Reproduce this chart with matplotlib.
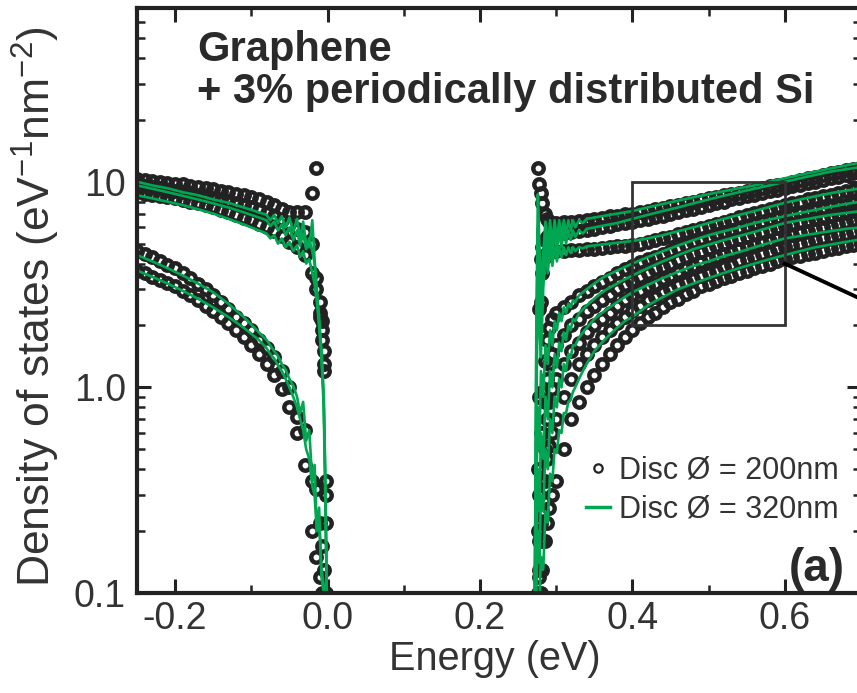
import numpy as np
import matplotlib.pyplot as plt
from matplotlib.patches import Rectangle
from matplotlib.lines import Line2D
from matplotlib.ticker import MultipleLocator, FixedLocator, FixedFormatter, LogLocator, NullFormatter, FormatStrFormatter

plt.rcParams['font.family'] = ['Liberation Sans', 'DejaVu Sans']
plt.rcParams['mathtext.fontset'] = 'custom'
plt.rcParams['mathtext.rm'] = 'Liberation Sans'
plt.rcParams['mathtext.default'] = 'regular'
plt.rcParams['axes.unicode_minus'] = False

GREEN = '#00a651'
DARK = '#222222'

# ---- valence band, disc 200 nm (circles) ----
e_vb_200 = [-0.25, -0.24, -0.23, -0.22, -0.21, -0.20, -0.19, -0.18, -0.17, -0.16,
            -0.15, -0.14, -0.13, -0.12, -0.11, -0.10, -0.09, -0.08, -0.07, -0.06,
            -0.05, -0.04, -0.03, -0.02, -0.015, -0.01, -0.007, -0.004, -0.002]
vb1_200 = [10.3, 10.2, 10.1, 10.0, 9.9, 9.8, 9.7, 9.55, 9.45, 9.3,
           9.2, 9.05, 8.9, 8.75, 8.6, 8.45, 8.25, 8.0, 7.7, 7.4,
           7.1, 7.1, 7.1, 8.8, 11.7, 2.6, 2.1, 1.3, 0.3]
vb2_200 = [9.6, 9.5, 9.4, 9.3, 9.15, 9.05, 8.9, 8.8, 8.65, 8.5,
           8.35, 8.2, 8.05, 7.9, 7.7, 7.5, 7.3, 7.05, 6.8, 6.5,
           6.2, 5.9, 5.7, 5.0, 3.4, 2.3, 1.9, 1.5, 0.35]
vb3_200 = [8.9, 8.75, 8.6, 8.5, 8.4, 8.3, 8.15, 8.0, 7.85, 7.7,
           7.5, 7.3, 7.1, 6.9, 6.7, 6.5, 6.25, 6.0, 5.75, 5.45,
           5.1, 4.8, 4.4, 3.6, 3.0, 2.2, 1.7, 1.2, 0.22]
vb4_200 = [4.6, 4.45, 4.3, 4.1, 3.95, 3.8, 3.6, 3.4, 3.2, 3.0,
           2.8, 2.6, 2.4, 2.2, 2.05, 1.9, 1.7, 1.55, 1.4, 1.2,
           1.0, 0.72, 0.62, 0.35, 0.32, 0.22, 0.17, 0.13, 0.1]
vb5_200 = [3.7, 3.58, 3.46, 3.34, 3.22, 3.1, 2.95, 2.8, 2.65, 2.5,
           2.35, 2.2, 2.05, 1.9, 1.75, 1.6, 1.45, 1.3, 1.15, 0.98,
           0.8, 0.6, 0.42, 0.2, 0.15, 0.12, 0.1, 0.09, 0.09]

# ---- valence band, disc 320 nm (lines) ----
e_vb_320 = [-0.25, -0.23, -0.21, -0.19, -0.17, -0.15, -0.13, -0.11, -0.09, -0.08,
            -0.075, -0.07, -0.065, -0.06, -0.055, -0.05, -0.045, -0.04, -0.036, -0.032,
            -0.028, -0.024, -0.02, -0.017, -0.014, -0.011, -0.008, -0.005, -0.003, -0.001]
vb1_320 = [10.0, 9.6, 9.3, 8.9, 8.6, 8.2, 7.9, 7.5, 7.1, 6.9,
           6.5, 6.9, 6.3, 6.8, 6.0, 6.7, 5.7, 6.6, 5.3, 6.4,
           5.0, 4.8, 6.5, 4.2, 3.0, 2.0, 1.4, 0.8, 0.3, 0.1]
vb2_320 = [9.6, 9.25, 8.9, 8.55, 8.2, 7.85, 7.5, 7.1, 6.7, 6.5,
           6.1, 6.4, 5.8, 6.2, 5.5, 6.0, 5.2, 5.8, 4.9, 5.6,
           4.7, 5.3, 4.6, 4.0, 2.9, 2.2, 1.5, 0.9, 0.35, 0.1]
vb3_320 = [8.6, 8.3, 8.0, 7.7, 7.35, 7.0, 6.6, 6.2, 5.8, 5.6,
           5.3, 5.5, 5.0, 5.3, 4.8, 5.1, 4.6, 4.9, 4.3, 4.6,
           4.0, 4.2, 3.6, 3.2, 2.6, 2.0, 1.5, 0.9, 0.4, 0.1]
vb4_320 = [4.4, 4.1, 3.8, 3.5, 3.2, 2.9, 2.55, 2.2, 1.85, 1.7,
           1.6, 1.5, 1.42, 1.3, 1.22, 1.1, 1.02, 0.9, 0.75, 0.85,
           0.55, 0.62, 0.35, 0.42, 0.2, 0.26, 0.12, 0.1, 0.08, 0.07]
vb5_320 = [3.7, 3.45, 3.2, 2.95, 2.7, 2.45, 2.2, 1.95, 1.7, 1.55,
           1.45, 1.38, 1.28, 1.2, 1.1, 1.0, 0.9, 0.8, 0.7, 0.62,
           0.5, 0.45, 0.33, 0.3, 0.2, 0.22, 0.13, 0.11, 0.09, 0.08]

# ---- conduction band, disc 200 nm (circles) ----
e_cb_200 = [0.276, 0.278, 0.280, 0.282, 0.285, 0.288, 0.291, 0.295,
            0.30, 0.31, 0.32, 0.33, 0.34, 0.35, 0.36, 0.37, 0.38, 0.39,
            0.40, 0.41, 0.42, 0.43, 0.44, 0.45, 0.46, 0.47, 0.48, 0.49,
            0.50, 0.51, 0.52, 0.53, 0.54, 0.55, 0.56, 0.57, 0.58, 0.59,
            0.60, 0.61, 0.62, 0.63, 0.64, 0.65, 0.66, 0.67, 0.68, 0.69, 0.70]
cb1_200 = [11.7, 9.8, 8.8, 7.9, 7.0, 6.6, 6.4, 6.3,
           6.3, 6.35, 6.4, 6.45, 6.55, 6.6, 6.7, 6.8, 6.85, 6.95,
           7.0, 7.1, 7.2, 7.35, 7.45, 7.6, 7.75, 7.9, 8.0, 8.15,
           8.3, 8.45, 8.6, 8.7, 8.85, 9.0, 9.15, 9.3, 9.5, 9.65,
           9.8, 10.0, 10.2, 10.4, 10.6, 10.8, 11.0, 11.2, 11.4, 11.6, 11.8]
cb2_200 = [0.4, 2.4, 4.2, 4.8, 5.2, 5.4, 5.5, 5.55,
           5.6, 5.65, 5.7, 5.75, 5.8, 5.9, 6.0, 6.1, 6.2, 6.3,
           6.4, 6.5, 6.6, 6.75, 6.85, 7.0, 7.15, 7.3, 7.4, 7.55,
           7.7, 7.85, 8.0, 8.2, 8.35, 8.5, 8.65, 8.8, 9.0, 9.15,
           9.3, 9.5, 9.65, 9.85, 10.0, 10.2, 10.4, 10.6, 10.8, 11.0, 11.2]
cb3_200 = [0.2, 0.9, 2.6, 3.6, 4.3, 4.5, 4.55, 4.6,
           4.6, 4.6, 4.65, 4.65, 4.7, 4.7, 4.75, 4.8, 4.85, 4.85,
           4.9, 5.0, 5.1, 5.2, 5.3, 5.4, 5.55, 5.7, 5.8, 5.95,
           6.1, 6.25, 6.4, 6.55, 6.75, 6.9, 7.05, 7.2, 7.4, 7.55,
           7.7, 7.85, 8.0, 8.2, 8.35, 8.5, 8.65, 8.8, 9.0, 9.15, 9.3]
cb4_200 = [0.1, 0.3, 0.6, 0.95, 1.35, 1.7, 1.95, 2.15,
           2.3, 2.45, 2.6, 2.8, 2.95, 3.1, 3.25, 3.4, 3.6, 3.75,
           3.9, 4.05, 4.2, 4.3, 4.45, 4.6, 4.75, 4.9, 5.1, 5.25,
           5.4, 5.55, 5.7, 5.8, 5.95, 6.1, 6.25, 6.4, 6.5, 6.65,
           6.8, 6.9, 7.05, 7.15, 7.3, 7.4, 7.5, 7.65, 7.75, 7.9, 8.0]
cb5_200 = [0.09, 0.18, 0.35, 0.6, 0.85, 1.1, 1.3, 1.45,
           1.6, 1.8, 2.0, 2.15, 2.35, 2.5, 2.65, 2.8, 3.0, 3.15,
           3.3, 3.45, 3.6, 3.75, 3.85, 4.0, 4.15, 4.3, 4.45, 4.55,
           4.7, 4.85, 5.0, 5.15, 5.25, 5.4, 5.55, 5.7, 5.85, 5.95,
           6.1, 6.2, 6.35, 6.45, 6.6, 6.7, 6.8, 6.95, 7.05, 7.2, 7.3]
cb6_200 = [0.08, 0.13, 0.22, 0.35, 0.5, 0.7, 0.85, 0.98,
           1.1, 1.3, 1.5, 1.65, 1.85, 2.0, 2.15, 2.3, 2.5, 2.65,
           2.8, 2.95, 3.1, 3.2, 3.35, 3.5, 3.65, 3.8, 3.9, 4.05,
           4.2, 4.3, 4.45, 4.55, 4.7, 4.8, 4.9, 5.05, 5.15, 5.3,
           5.4, 5.5, 5.65, 5.75, 5.9, 6.0, 6.1, 6.25, 6.35, 6.5, 6.6]
cb7_200 = [0.08, 0.12, 0.18, 0.25, 0.35, 0.45, 0.52, 0.6,
           0.7, 0.9, 1.1, 1.3, 1.45, 1.6, 1.75, 1.9, 2.05, 2.2,
           2.35, 2.5, 2.65, 2.75, 2.9, 3.0, 3.15, 3.25, 3.35, 3.5,
           3.6, 3.7, 3.85, 3.95, 4.1, 4.2, 4.3, 4.45, 4.55, 4.7,
           4.8, 4.9, 5.0, 5.1, 5.2, 5.3, 5.4, 5.5, 5.6, 5.7, 5.8]
cb8_200 = [0.06, 0.08, 0.1, 0.13, 0.18, 0.22, 0.26, 0.3,
           0.35, 0.5, 0.7, 0.85, 1.0, 1.15, 1.3, 1.45, 1.6, 1.75,
           1.9, 2.05, 2.2, 2.3, 2.45, 2.6, 2.7, 2.85, 2.95, 3.1,
           3.2, 3.3, 3.4, 3.5, 3.6, 3.7, 3.8, 3.9, 4.0, 4.1,
           4.2, 4.3, 4.35, 4.45, 4.5, 4.6, 4.7, 4.75, 4.85, 4.9, 5.0]

# ---- conduction band, disc 320 nm (lines) ----
e_cb_320 = [0.272, 0.274, 0.276, 0.278, 0.280,
            0.283, 0.286, 0.289, 0.292, 0.295, 0.298, 0.301, 0.304, 0.307, 0.310,
            0.313, 0.316, 0.319, 0.322, 0.325, 0.33, 0.335, 0.34,
            0.35, 0.36, 0.37, 0.38, 0.39, 0.40,
            0.42, 0.44, 0.46, 0.48, 0.50, 0.52, 0.54, 0.56, 0.58, 0.60,
            0.62, 0.64, 0.66, 0.68, 0.70]
cb1_320 = [0.1, 2.0, 8.7, 5.0, 3.0,
           4.5, 6.4, 4.8, 6.5, 5.0, 6.5, 5.2, 6.5, 5.4, 6.5,
           5.6, 6.5, 5.8, 6.5, 6.0, 6.5, 6.3, 6.6,
           6.7, 6.8, 6.9, 7.0, 7.1, 7.2,
           7.5, 7.8, 8.1, 8.4, 8.7, 9.0, 9.3, 9.6, 10.0, 10.4,
           10.8, 11.2, 11.6, 12.0, 12.4]
cb2_320 = [0.1, 1.5, 6.0, 3.5, 2.0,
           3.8, 5.6, 4.2, 5.8, 4.4, 5.8, 4.6, 5.8, 4.8, 5.8,
           5.0, 5.8, 5.2, 5.8, 5.4, 5.8, 5.6, 5.9,
           6.0, 6.1, 6.2, 6.3, 6.45, 6.6,
           6.9, 7.2, 7.5, 7.85, 8.2, 8.55, 8.9, 9.25, 9.6, 10.0,
           10.4, 10.8, 11.2, 11.5, 11.8]
cb3_320 = [0.1, 0.8, 3.0, 2.0, 1.4,
           3.0, 4.6, 3.6, 4.8, 3.9, 4.8, 4.1, 4.8, 4.3, 4.8,
           4.4, 4.8, 4.5, 4.8, 4.6, 4.8, 4.75, 4.85,
           4.9, 4.95, 5.0, 5.05, 5.1, 5.15,
           5.3, 5.5, 5.75, 6.0, 6.3, 6.6, 6.9, 7.2, 7.55, 7.9,
           8.2, 8.5, 8.8, 9.05, 9.3]
cb4_320 = [0.1, 0.3, 0.8, 0.5, 1.2,
           0.9, 1.6, 1.3, 1.9, 1.6, 2.1, 1.9, 2.3, 2.1, 2.45,
           2.3, 2.55, 2.45, 2.65, 2.6, 2.8, 2.9, 3.0,
           3.2, 3.4, 3.55, 3.7, 3.85, 4.0,
           4.3, 4.6, 4.9, 5.2, 5.5, 5.75, 6.0, 6.3, 6.55, 6.8,
           7.05, 7.3, 7.55, 7.8, 8.0]
cb5_320 = [0.08, 0.15, 0.4, 0.25, 0.6,
           0.45, 0.9, 0.7, 1.2, 1.0, 1.45, 1.25, 1.65, 1.5, 1.85,
           1.7, 2.0, 1.9, 2.15, 2.1, 2.3, 2.4, 2.5,
           2.7, 2.9, 3.05, 3.2, 3.35, 3.5,
           3.8, 4.1, 4.4, 4.7, 4.95, 5.2, 5.45, 5.7, 6.0, 6.3,
           6.5, 6.7, 6.9, 7.05, 7.2]
cb6_320 = [0.06, 0.1, 0.2, 0.14, 0.3,
           0.25, 0.5, 0.4, 0.7, 0.6, 0.9, 0.8, 1.1, 1.0, 1.3,
           1.2, 1.45, 1.4, 1.6, 1.6, 1.75, 1.85, 1.95,
           2.15, 2.3, 2.45, 2.6, 2.75, 2.9,
           3.15, 3.4, 3.65, 3.9, 4.1, 4.35, 4.55, 4.8, 5.05, 5.3,
           5.45, 5.6, 5.75, 5.9, 6.0]
cb7_320 = [0.05, 0.07, 0.1, 0.09, 0.15,
           0.13, 0.25, 0.22, 0.38, 0.35, 0.5, 0.48, 0.62, 0.6, 0.75,
           0.75, 0.85, 0.87, 0.95, 1.0, 1.1, 1.2, 1.3,
           1.5, 1.65, 1.8, 1.95, 2.1, 2.2,
           2.5, 2.75, 3.0, 3.2, 3.4, 3.6, 3.8, 4.0, 4.2, 4.4,
           4.6, 4.8, 4.95, 5.1, 5.25]

vb_200 = [vb1_200, vb2_200, vb3_200, vb4_200, vb5_200]
vb_320 = [vb1_320, vb2_320, vb3_320, vb4_320, vb5_320]
cb_200 = [cb1_200, cb2_200, cb3_200, cb4_200, cb5_200, cb6_200, cb7_200, cb8_200]
cb_320 = [cb1_320, cb2_320, cb3_320, cb4_320, cb5_320, cb6_320, cb7_320]

# zoom region marked for the next panel
box_e = (0.4, 0.6)
box_dos = (2.0, 10.0)
link_e = [0.6, 0.7]
link_dos = [4.0, 2.69]

fig = plt.figure(figsize=(8.57, 6.93), dpi=100)
# the right spine sits just past the figure edge
ax = fig.add_axes([137 / 857, 100 / 693, 724 / 857, 585 / 693])
ax.set_yscale('log')

circ = dict(ls='none', marker='o', ms=7.5, mfc='none', mec=DARK, mew=3.2)
for v in vb_200:
    ax.plot(e_vb_200, v, **circ)
for v in cb_200:
    ax.plot(e_cb_200, v, **circ)
for v in vb_320:
    ax.plot(e_vb_320, v, color=GREEN, lw=1.9)
for v in cb_320:
    ax.plot(e_cb_320, v, color=GREEN, lw=1.9)

ax.add_patch(Rectangle((box_e[0], box_dos[0]), box_e[1] - box_e[0], box_dos[1] - box_dos[0],
                       fill=False, ec='#333333', lw=2.0, zorder=5))
ax.plot(link_e, link_dos, color='black', lw=2.8, zorder=5)

ax.set_xlim(-0.25, 0.7)
ax.set_ylim(0.1, 70)

ax.xaxis.set_major_locator(MultipleLocator(0.2))
ax.xaxis.set_minor_locator(MultipleLocator(0.1))
ax.xaxis.set_major_formatter(FormatStrFormatter('%.1f'))
ax.yaxis.set_major_locator(FixedLocator([0.1, 1.0, 10.0]))
ax.yaxis.set_major_formatter(FixedFormatter(['0.1', '1.0', '10']))
ax.yaxis.set_minor_locator(LogLocator(base=10, subs=np.arange(2, 10)))
ax.yaxis.set_minor_formatter(NullFormatter())

ax.tick_params(which='both', direction='in', top=True, right=True, colors=DARK,
               labelsize=27, labelcolor='#333333')
ax.tick_params(which='major', length=10, width=2.2)
ax.tick_params(which='minor', length=6, width=1.8)
ax.tick_params(axis='x', pad=6)
ax.tick_params(axis='y', pad=8)
for sp in ax.spines.values():
    sp.set_linewidth(3)
    sp.set_color(DARK)

ax.set_xlabel('Energy (eV)', fontsize=28.5, color='#333333')
ax.set_ylabel('Density of states (eV$^{-1}$nm$^{-2}$)', fontsize=32, color='#333333')
ax.xaxis.set_label_coords(0.494, -0.08)
ax.yaxis.set_label_coords(-0.104, 0.49)

ax.text(0.083, 0.962, 'Graphene\n+ 3% periodically distributed Si', transform=ax.transAxes,
        fontsize=30, fontweight='bold', color='#2a2a2a', ha='left', va='top', linespacing=1.05)
ax.text(0.978, 0.003, '(a)', transform=ax.transAxes, fontsize=33, fontweight='bold',
        color='#2a2a2a', ha='right', va='bottom')

handles = [Line2D([], [], ls='none', marker='o', ms=6, mfc='none', mec=DARK, mew=1.6),
           Line2D([], [], color=GREEN, lw=2.5)]
ax.legend(handles, ['Disc Ø = 200nm', 'Disc Ø = 320nm'], loc='center left',
          bbox_to_anchor=(0.62, 0.176), frameon=False, fontsize=22, handlelength=0.8,
          handletextpad=0.3, labelspacing=0.3, borderpad=0, borderaxespad=0,
          labelcolor='#333333')

fig.savefig('out.png', dpi=100)
